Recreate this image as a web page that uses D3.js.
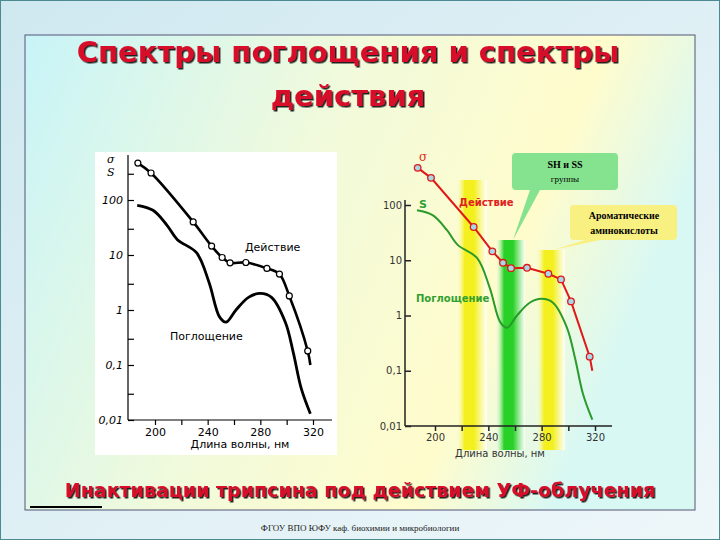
<!DOCTYPE html><html><head><meta charset="utf-8">
<script src="https://cdn.jsdelivr.net/npm/d3@7"></script>
<style>body{margin:0}svg{display:block}</style></head><body>
<script>
const actionNm=[187,197,229,243,251,257,269,285,294.5,302,316];
const actionVal=[470,310,40,14.5,9,7.2,7.3,5.7,4.5,1.8,0.18];
const actionEnd=[318,0.1];
const absNm=[186.5,198.5,209,217,231.5,241,249,254,261.5,271,280,288.5,299,305,311,318];
const absVal=[80,65,35,19,11,3.2,0.75,0.6,1,1.7,2,1.7,0.6,0.17,0.038,0.013];
const xTicks=[200,240,280,320];
const yTicksL=["100","10","1","0,1","0,01"];
const yTicksR=["100","10","1","0,1","0,01"];
const yTickVals=[100,10,1,0.1,0.01];

const svg=d3.select("body").append("svg").attr("width",720).attr("height",540);
const defs=svg.append("defs");
const bg=defs.append("linearGradient").attr("id","bg").attr("x1",0).attr("y1",0).attr("x2",1).attr("y2",1);
bg.append("stop").attr("offset",0).attr("stop-color","#cfe8f0");bg.append("stop").attr("offset",1).attr("stop-color","#eef7fa");
const pn=defs.append("linearGradient").attr("id","pn").attr("x1",0).attr("y1",0).attr("x2",1).attr("y2",0.3);
pn.append("stop").attr("offset",0).attr("stop-color","#c8f4f8");
pn.append("stop").attr("offset",0.45).attr("stop-color","#f0fadc");
pn.append("stop").attr("offset",0.8).attr("stop-color","#fffccc");
pn.append("stop").attr("offset",1).attr("stop-color","#d8f8f4");
function band(id,c){const g=defs.append("linearGradient").attr("id",id);
 g.append("stop").attr("offset",0).attr("stop-color","#fff").attr("stop-opacity",0);
 g.append("stop").attr("offset",0.3).attr("stop-color",c);
 g.append("stop").attr("offset",0.6).attr("stop-color",c);
 g.append("stop").attr("offset",1).attr("stop-color","#fff").attr("stop-opacity",0.9);}
band("by","#f4f020");band("bg2","#28d028");
const sh=defs.append("filter").attr("id","sh");sh.append("feDropShadow").attr("dx",1.5).attr("dy",1.5).attr("stdDeviation",0.4).attr("flood-color","#222");

svg.append("rect").attr("width",720).attr("height",540).attr("fill","url(#bg)");
svg.append("rect").attr("x",0.5).attr("y",0.5).attr("width",719).attr("height",539).attr("fill","none").attr("stroke","#4a8a90");
svg.append("rect").attr("x",25).attr("y",35).attr("width",670).attr("height",475).attr("fill","url(#pn)").attr("stroke","#557").attr("stroke-width",1);
svg.append("line").attr("x1",30).attr("x2",102).attr("y1",507).attr("y2",507).attr("stroke","#000").attr("stroke-width",2);

const tf="'Comic Sans MS','DejaVu Sans',sans-serif";
svg.append("text").attr("x",348).attr("y",62).attr("text-anchor","middle").attr("font-family",tf).attr("font-weight","bold").attr("font-size",29).attr("fill","#d8102a").attr("filter","url(#sh)").text("Спектры поглощения и спектры");
svg.append("text").attr("x",348).attr("y",106).attr("text-anchor","middle").attr("font-family",tf).attr("font-weight","bold").attr("font-size",29).attr("fill","#d8102a").attr("filter","url(#sh)").text("действия");
svg.append("text").attr("x",360).attr("y",497).attr("text-anchor","middle").attr("font-family",tf).attr("font-weight","bold").attr("font-size",19).attr("fill","#d8102a").attr("filter","url(#sh)").text("Инактивации трипсина под действием УФ-облучения");
svg.append("text").attr("x",360).attr("y",531).attr("text-anchor","middle").attr("font-family","'Liberation Serif',serif").attr("font-size",9).attr("fill","#222").text("ФГОУ ВПО ЮФУ каф. биохимии и микробиологии");

// LEFT chart
svg.append("rect").attr("x",95).attr("y",152).attr("width",242).attr("height",303).attr("fill","#fff");
const xL=d3.scaleLinear().domain([200,320]).range([155,313]);
const yL=d3.scaleLog().domain([0.01,100]).range([420,200]);
const gL=svg.append("g");
const xa=gL.append("g").attr("transform","translate(0,420)").call(d3.axisBottom(xL).tickValues([200,220,240,260,280,300,320]).tickSize(5).tickFormat(d=>xTicks.includes(d)?d:""));
xa.select(".domain").attr("d","M128,0H332");
const ya=gL.append("g").attr("transform","translate(128,0)").call(d3.axisLeft(yL).tickValues([300,100,30,10,3,1,0.3,0.1,0.03,0.01]).tickSize(-6).tickFormat(d=>{const i=yTickVals.indexOf(d);return i>=0?yTicksL[i]:""}));
ya.select(".domain").attr("d","M0,155V420");
gL.selectAll(".tick text").attr("font-family","'DejaVu Sans',sans-serif").attr("font-size",11).attr("fill","#000");
ya.selectAll(".tick text").attr("font-style","italic").attr("dx",-2);
gL.selectAll(".tick line,.domain").attr("stroke","#000").attr("stroke-width",1.2);
gL.append("text").attr("x",240).attr("y",448).attr("text-anchor","middle").attr("font-family","'DejaVu Sans',sans-serif").attr("font-size",11).text("Длина волны, нм");
gL.append("text").attr("x",107).attr("y",163).attr("font-family","'DejaVu Serif',serif").attr("font-style","italic").attr("font-size",11).text("σ");
gL.append("text").attr("x",107).attr("y",176).attr("font-family","'DejaVu Serif',serif").attr("font-style","italic").attr("font-size",11).text("S");
gL.append("text").attr("x",245).attr("y",251).attr("font-family","'DejaVu Sans',sans-serif").attr("font-size",11).text("Действие");
gL.append("text").attr("x",170).attr("y",340).attr("font-family","'DejaVu Sans',sans-serif").attr("font-size",11).text("Поглощение");
const act=actionNm.map((n,i)=>[n,actionVal[i]]);
const actL=act.concat([actionEnd]);
const abs=absNm.map((n,i)=>[n,absVal[i]]);
const lineL=d3.line().x(d=>xL(d[0])).y(d=>yL(d[1])).curve(d3.curveCatmullRom);
gL.append("path").attr("d",lineL(actL)).attr("fill","none").attr("stroke","#000").attr("stroke-width",2.6);
gL.append("path").attr("d",lineL(abs)).attr("fill","none").attr("stroke","#000").attr("stroke-width",2.8);
gL.selectAll("circle").data(act).join("circle").attr("cx",d=>xL(d[0])).attr("cy",d=>yL(d[1])).attr("r",3).attr("fill","#fff").attr("stroke","#000").attr("stroke-width",1.2);

// RIGHT chart
const xR=d3.scaleLinear().domain([200,320]).range([435,595]);
const yR=d3.scaleLog().domain([0.01,100]).range([426,205]);
const gR=svg.append("g");
gR.append("rect").attr("x",455).attr("y",180).attr("width",32).attr("height",270).attr("fill","url(#by)");
gR.append("rect").attr("x",495).attr("y",240).attr("width",30).attr("height",210).attr("fill","url(#bg2)");
gR.append("rect").attr("x",535).attr("y",250).attr("width",30).attr("height",200).attr("fill","url(#by)");
gR.append("path").attr("d","M514,153H614Q618,153 618,157V186Q618,190 614,190H540L513,240L530,190H516Q512,190 512,186V157Q512,153 516,153Z").attr("fill","#7ee08a").attr("opacity",0.95);
gR.append("path").attr("d","M574,205H673Q677,205 677,209V236Q677,240 673,240H600L553,250L585,240H574Q570,240 570,236V209Q570,205 574,205Z").attr("fill","#f8f080");
const sf="'Liberation Serif',serif";
gR.append("text").attr("x",565).attr("y",168).attr("text-anchor","middle").attr("font-family",sf).attr("font-weight","bold").attr("font-size",10).text("SH и  SS");
gR.append("text").attr("x",565).attr("y",182).attr("text-anchor","middle").attr("font-family",sf).attr("font-size",9).text("группы");
gR.append("text").attr("x",624).attr("y",219).attr("text-anchor","middle").attr("font-family",sf).attr("font-weight","bold").attr("font-size",10).text("Ароматические");
gR.append("text").attr("x",624).attr("y",234).attr("text-anchor","middle").attr("font-family",sf).attr("font-weight","bold").attr("font-size",10).text("аминокислоты");
const xaR=gR.append("g").attr("transform","translate(0,426)").call(d3.axisBottom(xR).tickValues([200,220,240,260,280,300,320]).tickSize(5).tickFormat(d=>xTicks.includes(d)?d:""));
xaR.select(".domain").attr("d","M405,0H612");
const yaR=gR.append("g").attr("transform","translate(405,0)").call(d3.axisLeft(yR).tickValues(yTickVals).tickSize(-6).tickFormat((d,i)=>yTicksR[i]));
yaR.select(".domain").attr("d","M0,200V426");
gR.selectAll(".tick text").attr("font-family","'DejaVu Sans',sans-serif").attr("font-size",10).attr("fill","#333");
gR.selectAll(".tick line,.domain").attr("stroke","#222").attr("stroke-width",1.5);
gR.append("text").attr("x",500).attr("y",457).attr("text-anchor","middle").attr("font-family","'DejaVu Sans',sans-serif").attr("font-size",10).attr("fill","#333").text("Длина волны, нм");
gR.append("text").attr("x",419).attr("y",161).attr("font-family","'DejaVu Serif',serif").attr("font-size",12).attr("fill","#e03020").text("σ");
gR.append("text").attr("x",419).attr("y",208).attr("font-family","'DejaVu Sans',sans-serif").attr("font-weight","bold").attr("font-size",11).attr("fill","#30a030").text("S");
gR.append("text").attr("x",459).attr("y",206).attr("font-family","'DejaVu Sans',sans-serif").attr("font-weight","bold").attr("font-size",10).attr("fill","#e02020").text("Действие");
gR.append("text").attr("x",416).attr("y",302).attr("font-family","'DejaVu Sans',sans-serif").attr("font-weight","bold").attr("font-size",10).attr("fill","#30a030").text("Поглощение");
const lineR=d3.line().x(d=>xR(d[0])).y(d=>yR(d[1]));
const lineRc=d3.line().x(d=>xR(d[0])).y(d=>yR(d[1])).curve(d3.curveCatmullRom);
gR.append("path").attr("d",lineRc(abs)).attr("fill","none").attr("stroke","#2a9a2a").attr("stroke-width",2);
gR.append("path").attr("d",lineR(actL)).attr("fill","none").attr("stroke","#e01818").attr("stroke-width",2);
gR.selectAll("circle").data(act).join("circle").attr("cx",d=>xR(d[0])).attr("cy",d=>yR(d[1])).attr("r",3.3).attr("fill","#a8d8e8").attr("stroke","#e01818").attr("stroke-width",1.3);
</script></body></html>
